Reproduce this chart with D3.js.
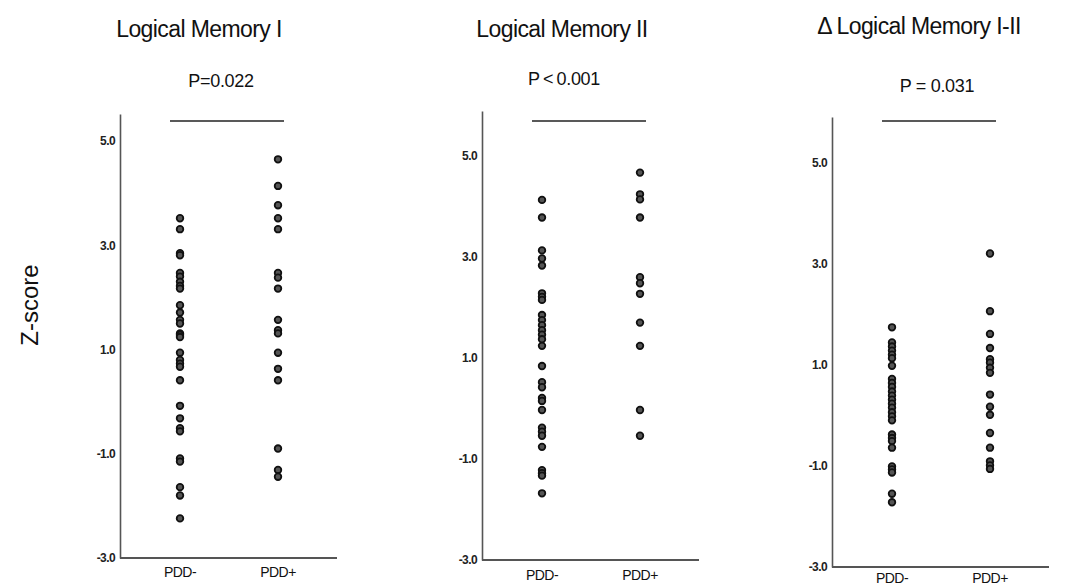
<!DOCTYPE html>
<html>
<head>
<meta charset="utf-8">
<script src="https://cdn.jsdelivr.net/npm/d3@7"></script>
<style>
  body { margin: 0; background: #fff; }
  text { font-family: "Liberation Sans", Arial, sans-serif; }
</style>
</head>
<body>
<div id="renderDiv"></div>
<script>
// values (z-scores)
const categories = ["PDD-", "PDD+"];
const yTicks = [-3, -1, 1, 3, 5];
const titles = ["Logical Memory I", "Logical Memory II", "\u0394 Logical Memory I-II"];
const pLabels = ["P=0.022", "P\u2009<\u20090.001", "P = 0.031"];

const lm1_neg = [3.52, 3.31, 2.85, 2.81, 2.47, 2.40, 2.30, 2.22, 2.17, 1.85, 1.71, 1.57, 1.50, 1.31, 1.28, 1.24, 0.94, 0.80, 0.73, 0.67, 0.41, -0.08, -0.32, -0.51, -0.57, -1.09, -1.15, -1.64, -1.80, -2.24];
const lm1_pos = [4.65, 4.14, 3.77, 3.52, 3.31, 2.47, 2.38, 2.17, 1.57, 1.37, 1.31, 0.94, 0.63, 0.41, -0.90, -1.31, -1.44];
const lm2_neg = [4.13, 3.78, 3.13, 2.97, 2.83, 2.28, 2.21, 2.15, 1.85, 1.75, 1.65, 1.55, 1.46, 1.37, 1.24, 0.84, 0.52, 0.42, 0.21, 0.15, -0.03, -0.38, -0.46, -0.54, -0.76, -1.22, -1.28, -1.33, -1.68];
const lm2_pos = [4.67, 4.24, 4.14, 3.78, 2.60, 2.48, 2.27, 1.70, 1.24, -0.03, -0.54];
const delta_neg = [1.74, 1.44, 1.36, 1.28, 1.20, 1.13, 0.98, 0.72, 0.64, 0.56, 0.47, 0.39, 0.31, 0.23, 0.15, 0.06, -0.02, -0.10, -0.38, -0.45, -0.51, -0.64, -1.01, -1.07, -1.13, -1.55, -1.72];
const delta_pos = [3.20, 2.06, 1.61, 1.33, 1.11, 1.04, 0.94, 0.84, 0.41, 0.17, 0.01, -0.35, -0.64, -0.91, -0.99, -1.06];

const seriesByPanel = [[lm1_neg, lm1_pos], [lm2_neg, lm2_pos], [delta_neg, delta_pos]];

// layout of each panel (pixels)
const panelLayout = [
    { axisX: 120, yTop: 114, yBottom: 558, yMax: 5.52, titleX: 199, titleY: 37, pX: 221, pY: 87, catY: 577 },
    { axisX: 482, yTop: 111, yBottom: 560, yMax: 5.89, titleX: 562, titleY: 37, pX: 564, pY: 85, catY: 580 },
    { axisX: 832, yTop: 117, yBottom: 567, yMax: 5.90, titleX: 919, titleY: 34, pX: 937, pY: 92, catY: 583 }
];
const AXIS_LEN = 217, SIG_Y = 121;

const svg = d3.select("#renderDiv").append("svg")
    .attr("width", 1077).attr("height", 586);

function drawPanel(i) {
    let lay = panelLayout[i];
    let xScale = d3.scalePoint().domain(categories).range([lay.axisX + 60, lay.axisX + 158]);
    let yScale = d3.scaleLinear().domain([-3, lay.yMax]).range([lay.yBottom, lay.yTop]);

    // y axis
    let yAxis = svg.append("g")
        .attr("transform", "translate(" + lay.axisX + ",0)")
        .call(d3.axisLeft(yScale).tickValues(yTicks).tickFormat(d => d.toFixed(1)).tickSize(0).tickPadding(5));
    yAxis.select(".domain").attr("stroke", "#555").attr("stroke-width", 1.6);
    yAxis.selectAll("text").attr("font-size", 12).attr("font-weight", "bold")
        .attr("fill", "#222").attr("letter-spacing", -0.6)
        .attr("font-family", "'Liberation Sans', Arial, sans-serif");

    // x axis line
    svg.append("line")
        .attr("x1", lay.axisX).attr("x2", lay.axisX + AXIS_LEN)
        .attr("y1", lay.yBottom).attr("y2", lay.yBottom)
        .attr("stroke", "#555").attr("stroke-width", 2);
    svg.append("g").selectAll("text").data(categories).join("text")
        .attr("x", d => xScale(d)).attr("y", lay.catY)
        .attr("text-anchor", "middle").attr("font-size", 14)
        .attr("fill", "#111").attr("letter-spacing", -0.5)
        .text(d => d);

    // dots
    let dots = svg.append("g");
    seriesByPanel[i].forEach((vals, k) => {
        dots.selectAll(null).data(vals).join("circle")
            .attr("cx", xScale(categories[k]))
            .attr("cy", d => yScale(d))
            .attr("r", 3.3)
            .attr("fill", "#555")
            .attr("stroke", "#111")
            .attr("stroke-width", 1.8);
    });

    // significance bar
    svg.append("line")
        .attr("x1", xScale(categories[0]) - 10).attr("x2", xScale(categories[1]) + 6)
        .attr("y1", SIG_Y).attr("y2", SIG_Y)
        .attr("stroke", "#222").attr("stroke-width", 1.6);

    svg.append("text").attr("x", lay.titleX).attr("y", lay.titleY)
        .attr("text-anchor", "middle").attr("font-size", 23).attr("fill", "#111")
        .attr("letter-spacing", -0.6)
        .text(titles[i]);
    svg.append("text").attr("x", lay.pX).attr("y", lay.pY)
        .attr("text-anchor", "middle").attr("font-size", 18).attr("fill", "#111")
        .attr("letter-spacing", -0.3)
        .text(pLabels[i]);
}

for (let i = 0; i < 3; i++) drawPanel(i);

svg.append("text")
    .attr("transform", "translate(38,305) rotate(-90)")
    .attr("text-anchor", "middle").attr("font-size", 24).attr("fill", "#111")
    .text("Z-score");
</script>
</body>
</html>
